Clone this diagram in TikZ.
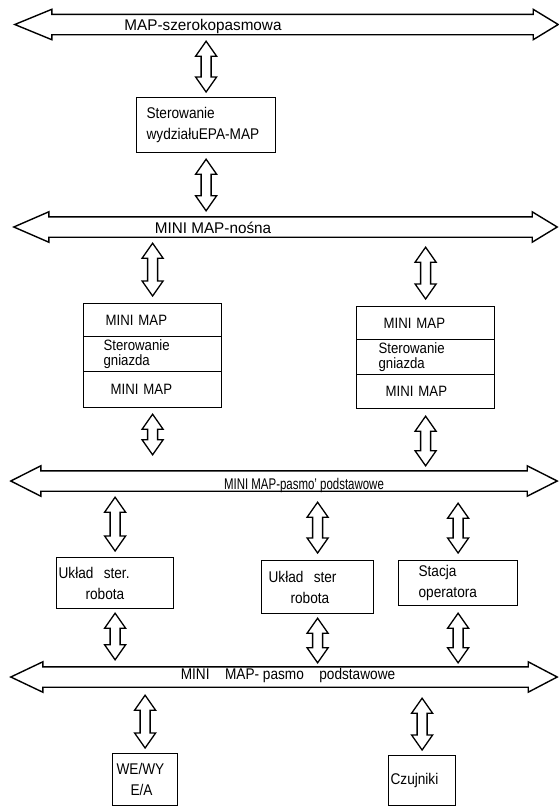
\documentclass[tikz,border=0pt]{standalone}
\usepackage{fontspec}
\setmainfont{Liberation Sans}[FakeStretch=0.88]
\usetikzlibrary{calc}

% outline of a bus: body node plus two arrow heads
\newcommand\busoutline[3]{%
  \draw[busline] ([xshift=-#2]#1.west) -- ([yshift=5pt]#1.north west) -- (#1.north west)
    -- (#1.north east) -- ([yshift=5pt]#1.north east) -- ([xshift=#3]#1.east)
    -- ([yshift=-5pt]#1.south east) -- (#1.south east) -- (#1.south west)
    -- ([yshift=-5pt]#1.south west) -- cycle;}

% hollow two-way link from point #1 down to point #2, with gaps #3 and #4
\newcommand\vlink[4]{%
  \draw[link] let \p1=($(#1)+(0,#3)$), \p2=($(#2)-(0,#4)$) in
    (\x1,\y1) -- ({\x1+10.5pt},{\y1-15pt}) -- ({\x1+5pt},{\y1-15pt})
    -- ({\x1+5pt},{\y2+15pt}) -- ({\x1+10.5pt},{\y2+15pt}) -- (\x1,\y2)
    -- ({\x1-10.5pt},{\y2+15pt}) -- ({\x1-5pt},{\y2+15pt})
    -- ({\x1-5pt},{\y1-15pt}) -- ({\x1-10.5pt},{\y1-15pt}) -- cycle;}

\tikzset{
  every node/.style={font=\fontsize{15.5}{21}\selectfont},
  busline/.style={line width=1.4pt, line join=miter},
  link/.style={line width=1.3pt, line join=miter},
  busbody/.style={inner sep=0pt, minimum height=20pt},
  buslabel/.style={inner sep=0pt, anchor=base},
  box/.style={draw, line width=1.2pt, inner ysep=0pt, align=left, anchor=north west},
  cell/.style={box, font=\fontsize{15}{15}\selectfont},
}

\begin{document}
\begin{tikzpicture}[x=1pt, y=-1pt]
\path[use as bounding box, fill=white] (0,0) rectangle (558,807);

% ---- buses ----
\node[busbody, minimum width=481pt] (bus1) at (292.5,24.5) {};
\node[busbody, minimum width=483pt] (bus2) at (290.5,227) {};
\node[busbody, minimum width=486pt] (bus3) at (284,481) {};
\node[busbody, minimum width=485pt] (bus4) at (285.5,677) {};
\busoutline{bus1}{37pt}{25pt}
\busoutline{bus2}{35pt}{25pt}
\busoutline{bus3}{30pt}{30pt}
\busoutline{bus4}{32pt}{29pt}

\node[buslabel] (l1) at (203,30) {\scalebox{1.12}[1]{MAP-szerokopasmowa}};
\node[buslabel] (l2) at (213,233) {\scalebox{1.12}[1]{MINI MAP-nośna}};
\node[buslabel] (l3) at (304,489) {\scalebox{0.84}[1]{MINI MAP-pasmo' podstawowe}};
\node[buslabel] (l4) at (288,679) {MINI\quad MAP- pasmo\quad podstawowe};

% ---- department control ----
\node[box, minimum width=139pt, minimum height=55pt, inner xsep=10pt, text width=119pt]
  (epa) at (136,97) {Sterowanie\\\mbox{wydziałuEPA-MAP}};

% ---- cell controllers ----
\node[cell, minimum width=138pt, minimum height=33pt, inner xsep=22pt, text width=94pt]
  (s1a) at (83,303) {MINI MAP};
\node[cell, minimum width=138pt, minimum height=35pt, inner xsep=20pt, text width=98pt]
  (s1b) at (83,336) {Sterowanie\\gniazda};
\node[cell, minimum width=138pt, minimum height=36pt, inner xsep=27pt, text width=84pt]
  (s1c) at (83,371) {MINI MAP};

\node[cell, minimum width=138pt, minimum height=33pt, inner xsep=27pt, text width=84pt]
  (s2a) at (356,306) {MINI MAP};
\node[cell, minimum width=138pt, minimum height=35pt, inner xsep=22pt, text width=94pt]
  (s2b) at (356,339) {Sterowanie\\gniazda};
\node[cell, minimum width=138pt, minimum height=34pt, inner xsep=29pt, text width=80pt]
  (s2c) at (356,374) {MINI MAP};

% ---- robots and operator ----
\node[box, minimum width=117pt, minimum height=51pt, inner xsep=2pt, text width=113pt]
  (ra) at (56,557) {Układ\ \ ster.\\\hspace*{27pt}robota};
\node[box, minimum width=112pt, minimum height=53pt, inner xsep=7pt, text width=98pt]
  (rb) at (261,560) {Układ\ \ ster\\\hspace*{22pt}robota};
\node[box, minimum width=119pt, minimum height=45pt, inner xsep=20pt, text width=79pt]
  (op) at (398,560) {Stacja\\operatora};

% ---- field devices ----
\node[box, minimum width=65pt, minimum height=52pt, inner xsep=4pt, text width=57pt]
  (io) at (112,753) {WE/WY\\\hspace*{14pt}E/A};
\node[box, minimum width=67pt, minimum height=50pt, inner xsep=2pt, text width=63pt]
  (sen) at (388,755) {Czujniki};

% ---- links ----
\vlink{bus1.south -| epa.north}{epa.north}{6.5}{5}
\vlink{epa.south}{bus2.north -| epa.south}{6}{6}
\vlink{bus2.south -| s1a.north}{s1a.north}{6}{7}
\vlink{bus2.south -| s2a.north}{s2a.north}{10}{7}
\vlink{s1c.south}{bus3.north -| s1c.south}{6}{16}
\vlink{s2c.south}{bus3.north -| s2c.south}{7}{5}
\vlink{bus3.south -| ra.north}{ra.north}{6}{6}
\vlink{bus3.south -| rb.north}{rb.north}{11}{7}
\vlink{bus3.south -| op.north}{op.north}{12}{7}
\vlink{ra.south}{bus4.north -| ra.south}{4}{7}
\vlink{rb.south}{bus4.north -| rb.south}{4}{4}
\vlink{op.south}{bus4.north -| op.south}{7}{4}
\vlink{bus4.south -| io.north}{io.north}{8}{5}
\vlink{bus4.south -| sen.north}{sen.north}{11}{5}
\end{tikzpicture}
\end{document}
